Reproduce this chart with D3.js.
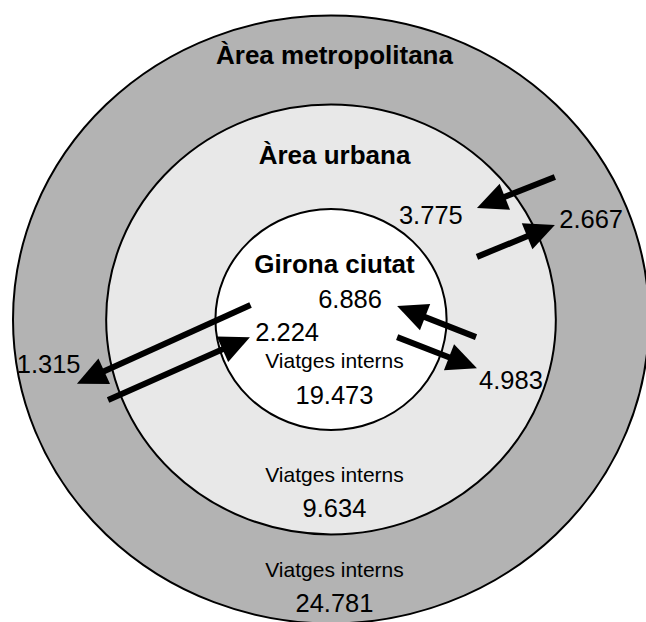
<!DOCTYPE html>
<html lang="ca">
<head>
<meta charset="utf-8">
<title>Viatges Girona</title>
<style>
  html, body { margin: 0; padding: 0; background: #fff; }
  svg text { font-family: "Liberation Sans", Arial, sans-serif; fill: #000; }
  .zone { font-weight: bold; font-size: 26px; }
  .num { font-size: 25.5px; }
  .lbl { font-size: 21px; }
</style>
</head>
<body>
<div id="chart"></div>
<script src="https://d3js.org/d3.v7.min.js"></script>
<script>
// zones from outside to inside
var zones = ["Àrea metropolitana", "Àrea urbana", "Girona ciutat"];
var internalTrips = [24781, 9634, 19473];
var internalLabel = "Viatges interns";

// flows between zones
var flowValues = [3775, 2667, 6886, 4983, 1315, 2224];
var flowFrom = ["Àrea metropolitana", "Àrea urbana", "Àrea urbana", "Girona ciutat", "Girona ciutat", "Àrea metropolitana"];
var flowTo = ["Àrea urbana", "Àrea metropolitana", "Girona ciutat", "Àrea urbana", "Àrea metropolitana", "Girona ciutat"];

// layout (diagram units, -1..1)
var ringRadius = [1, 0.707, 0.3635];
var ringFill = ["#b3b3b3", "#e8e8e8", "#ffffff"];
var titleY = [-0.840, -0.511, -0.153];
var internalY = [[0.847, 0.962], [0.535, 0.650], [0.160, 0.278]];
var arrowPos = [
  [[0.704, -0.469], [0.459, -0.367]],
  [[0.459, -0.206], [0.704, -0.311]],
  [[0.456, 0.058], [0.208, -0.044]],
  [[0.208, 0.058], [0.459, 0.160]],
  [[-0.253, -0.048], [-0.799, 0.211]],
  [[-0.701, 0.265], [-0.255, 0.058]]
];
var labelPos = [[0.314, -0.314], [0.818, -0.301], [0.060, -0.038], [0.566, 0.229], [-0.888, 0.176], [-0.138, 0.071]];

var W = 646, H = 622;
var cx = 331, cy = 319.5, rx = 318, ry = 304;

var x = d3.scaleLinear().domain([-1, 1]).range([cx - rx, cx + rx]);
var y = d3.scaleLinear().domain([-1, 1]).range([cy - ry, cy + ry]);

var fmt = d3.formatLocale({decimal: ",", thousands: ".", grouping: [3], currency: ["", "€"]}).format(",d");

var svg = d3.select("#chart").append("svg").attr("width", W).attr("height", H);

// rings
svg.selectAll("ellipse")
  .data(zones)
  .enter()
  .append("ellipse")
  .attr("cx", x(0))
  .attr("cy", y(0))
  .attr("rx", function(d, i) { return x(ringRadius[i]) - x(0); })
  .attr("ry", function(d, i) { return y(ringRadius[i]) - y(0); })
  .attr("fill", function(d, i) { return ringFill[i]; })
  .attr("stroke", "#000")
  .attr("stroke-width", 2);

// zone titles
svg.selectAll("text.zone")
  .data(zones)
  .enter()
  .append("text")
  .attr("class", "zone")
  .attr("x", x(0.011))
  .attr("y", function(d, i) { return y(titleY[i]); })
  .attr("text-anchor", "middle")
  .text(function(d) { return d; });

// internal trips
internalTrips.forEach(function(v, i) {
  svg.append("text")
    .attr("class", "lbl")
    .attr("x", x(0.011))
    .attr("y", y(internalY[i][0]))
    .attr("text-anchor", "middle")
    .text(internalLabel);
  svg.append("text")
    .attr("class", "num")
    .attr("x", x(0.011))
    .attr("y", y(internalY[i][1]))
    .attr("text-anchor", "middle")
    .text(fmt(v));
});

// arrows
var headLen = 30, headHalf = 14, shaft = 6;
var arrows = svg.append("g");
flowValues.forEach(function(v, i) {
  var x0 = x(arrowPos[i][0][0]), y0 = y(arrowPos[i][0][1]);
  var x1 = x(arrowPos[i][1][0]), y1 = y(arrowPos[i][1][1]);
  var dx = x1 - x0, dy = y1 - y0, len = Math.sqrt(dx * dx + dy * dy);
  var ux = dx / len, uy = dy / len;
  var bx = x1 - ux * headLen, by = y1 - uy * headLen;
  arrows.append("line")
    .attr("x1", x0).attr("y1", y0)
    .attr("x2", bx + ux * 2).attr("y2", by + uy * 2)
    .attr("stroke", "#000")
    .attr("stroke-width", shaft);
  arrows.append("path")
    .attr("d", "M" + x1 + "," + y1 +
      "L" + (bx - uy * headHalf) + "," + (by + ux * headHalf) +
      "L" + (bx + uy * headHalf) + "," + (by - ux * headHalf) + "Z")
    .attr("fill", "#000");
});

// flow labels
svg.selectAll("text.flow")
  .data(flowValues)
  .enter()
  .append("text")
  .attr("class", "num flow")
  .attr("x", function(d, i) { return x(labelPos[i][0]); })
  .attr("y", function(d, i) { return y(labelPos[i][1]); })
  .attr("text-anchor", "middle")
  .text(function(d) { return fmt(d); });
</script>
</body>
</html>
